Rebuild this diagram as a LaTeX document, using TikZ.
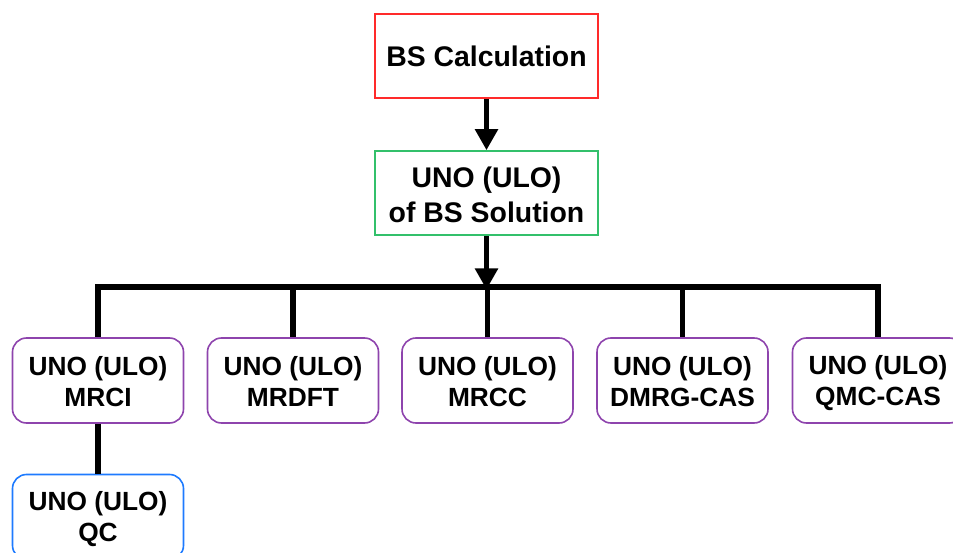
\documentclass[tikz,border=0pt]{standalone}
\usepackage{fontspec}
\setmainfont{Liberation Sans}
\usetikzlibrary{arrows.meta}
\definecolor{bsred}{HTML}{FF2A2A}
\definecolor{unogreen}{HTML}{33C06B}
\definecolor{methpurple}{HTML}{8E44AD}
\definecolor{qcblue}{HTML}{1E7BFF}
% two-line label: fixed height above the first line and depth below the last,
% so every box centres its text the same way
\newcommand{\twoline}[4]{\rule{0pt}{#1}#3\\#4\rule[-#2]{0pt}{#2}}
\begin{document}
\begin{tikzpicture}[x=1pt,y=-1pt,
  topbox/.style={draw, line width=1.6pt, minimum width=223pt, minimum height=84pt,
    align=center, inner sep=0pt, font=\fontsize{28.4}{35}\selectfont\bfseries},
  methbox/.style={draw=methpurple, line width=1.6pt, rounded corners=14pt,
    minimum width=171pt, minimum height=85pt, align=center, inner sep=0pt,
    font=\fontsize{26.3}{31}\selectfont\bfseries},
  link/.style={line width=5.5pt},
  flow/.style={line width=5.5pt, -{Triangle[width=22pt,length=21pt]}}]
\useasboundingbox (0,0) rectangle (953,553);

% main sequence
\node[topbox, draw=bsred] (bs) at (486.5,56) {BS Calculation};
\node[topbox, draw=unogreen] (uno) at (486.5,193) {\twoline{27pt}{3pt}{UNO (ULO)}{of BS Solution}};

% method boxes
\node[methbox] (mrci)  at (98,380.5)  {\twoline{23.4pt}{3pt}{UNO (ULO)}{MRCI}};
\node[methbox] (mrdft) at (293,380.5) {\twoline{23.4pt}{3pt}{UNO (ULO)}{MRDFT}};
\node[methbox] (mrcc)  at (487.5,380.5) {\twoline{23.4pt}{3pt}{UNO (ULO)}{MRCC}};
\node[methbox] (dmrg)  at (682.5,380.5) {\twoline{23.4pt}{3pt}{UNO (ULO)}{DMRG-CAS}};
\node[methbox] (qmc)   at (878,380.5) {\twoline{23.4pt}{3pt}{UNO (ULO)}{QMC-CAS}};
\node[methbox, draw=qcblue] (qc) at (98,517) {\twoline{23.4pt}{3pt}{UNO (ULO)}{QC}};

% distribution bus
\coordinate (bus) at (486.5,287);
\draw[flow] (bs.south) -- (uno.north);
\draw[flow, shorten >=-2.5pt] (uno.south) -- (bus);
\draw[link, line cap=rect] (mrci.north |- bus) -- (qmc.north |- bus);
\foreach \n in {mrci,mrdft,mrcc,dmrg,qmc}
  \draw[link] (\n.north |- bus) -- (\n.north);
\draw[link] (mrci.south) -- (qc.north);
\end{tikzpicture}
\end{document}
